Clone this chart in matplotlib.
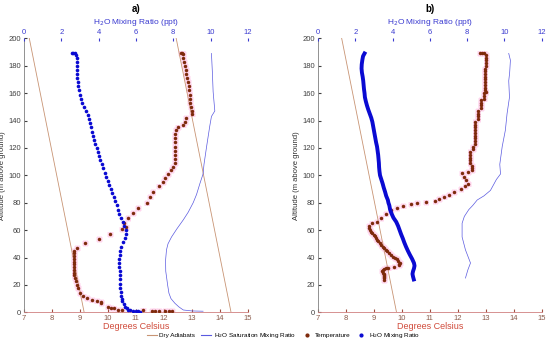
import numpy as np
import matplotlib
matplotlib.use('Agg')
import matplotlib.pyplot as plt
from matplotlib.lines import Line2D

plt.rcParams['font.family'] = ['Liberation Sans', 'DejaVu Sans']

# ---- panel a) ----
a_mr_z = [189, 189, 189, 188, 186, 183, 180, 177, 174, 171, 168, 165, 162, 159, 156, 153, 150,
          147, 144, 141, 138, 135, 132, 129, 126, 123, 120, 117, 114, 111, 108, 105, 102, 99,
          96, 93, 90, 87, 84, 81, 78, 75, 72, 69, 66, 63, 60, 57, 54, 51, 48, 45, 42, 39, 36,
          33, 30, 27, 24, 21, 18, 15, 12, 10, 8, 6, 4, 3, 2, 1.5, 1, 0.8, 0.6, 0.5]
a_mr = [2.55, 2.65, 2.75, 2.8, 2.82, 2.82, 2.83, 2.84, 2.85, 2.86, 2.88, 2.9, 2.93, 2.98, 3.05,
        3.12, 3.22, 3.32, 3.42, 3.5, 3.56, 3.6, 3.65, 3.7, 3.76, 3.83, 3.9, 3.97, 4.04, 4.1,
        4.17, 4.25, 4.32, 4.4, 4.48, 4.56, 4.65, 4.72, 4.8, 4.88, 4.96, 5.04, 5.12, 5.2, 5.3,
        5.38, 5.45, 5.46, 5.42, 5.32, 5.22, 5.15, 5.13, 5.12, 5.12, 5.12, 5.13, 5.14, 5.15,
        5.16, 5.17, 5.18, 5.2, 5.23, 5.28, 5.35, 5.42, 5.5, 5.58, 5.7, 5.85, 6.0, 6.1, 6.2]

a_t_z = [189, 189, 188.5, 186, 183, 180, 177, 174, 171, 168, 165, 162, 159, 156, 153, 150, 147,
         145, 142, 139, 137, 135, 133, 130, 127, 124, 121, 118, 115, 112, 109, 106, 104, 101,
         98, 95, 92, 88, 84.4, 80, 76, 72.4, 68.8, 65, 62, 60.5, 57, 53.7, 50.6, 47, 45, 43,
         41, 39, 37, 35, 33, 31, 29, 27, 25, 23, 20, 17.7, 14, 11.7, 10.4, 9.2, 8.5, 7.8, 6.5,
         4.1, 3, 2.8, 1.8, 1.8, 1.5, 1.2, 1.2, 1.2, 1.0, 1.0, 1.0]
a_t = [12.6, 12.66, 12.7, 12.7, 12.72, 12.75, 12.78, 12.8, 12.83, 12.86, 12.88, 12.9, 12.92,
       12.93, 12.94, 12.96, 12.99, 13.0, 12.8, 12.77, 12.68, 12.5, 12.43, 12.4, 12.39, 12.39,
       12.39, 12.39, 12.39, 12.39, 12.39, 12.33, 12.27, 12.15, 12.05, 11.98, 11.83, 11.6,
       11.5, 11.38, 11.08, 10.9, 10.7, 10.58, 10.64, 10.49, 10.07, 9.69, 9.18, 8.9, 8.8, 8.79,
       8.79, 8.79, 8.79, 8.79, 8.79, 8.8, 8.8, 8.8, 8.82, 8.86, 8.9, 8.94, 9.0, 9.1, 9.26,
       9.42, 9.6, 9.77, 9.77, 10.0, 10.1, 10.2, 10.36, 10.5, 11.26, 11.56, 11.7, 11.82, 12.05,
       12.18, 12.3]

a_sat_z = [189, 175, 161, 147, 143, 136, 121, 108, 101, 94, 86, 80, 73, 67.5, 61, 55, 50, 45.6,
           38, 30, 26, 20, 14, 10, 6.6, 4, 1.7, 1, 0.8]
a_sat = [10.05, 10.1, 10.14, 10.23, 10.05, 9.96, 9.79, 9.65, 9.6, 9.43, 9.25, 9.07, 8.8, 8.54,
         8.2, 7.91, 7.72, 7.64, 7.59, 7.6, 7.64, 7.7, 7.77, 7.88, 8.09, 8.3, 8.54, 9.0, 9.6]

# dry adiabats: temperature at ground and at 200 m
a_adiab_bottom = [9.15, 14.4]
a_adiab_top = [7.19, 12.44]

# ---- panel b) ----
b_mr_z = [189, 187, 184, 181, 178, 175, 172, 169, 166, 163, 160, 157, 154, 151, 148, 145, 142,
          139, 136, 133, 130, 127, 124, 121, 118, 115, 112, 109, 106, 103, 100, 97, 94, 91, 88,
          85, 82, 80, 78, 75, 72, 69, 66, 63, 60, 57, 54, 51, 48, 45, 42, 39, 36, 34, 32, 30,
          28, 26, 24]
b_mr = [2.5, 2.42, 2.38, 2.35, 2.34, 2.36, 2.4, 2.43, 2.45, 2.47, 2.5, 2.52, 2.57, 2.63, 2.7,
        2.78, 2.86, 2.92, 2.96, 3.0, 3.04, 3.08, 3.12, 3.17, 3.2, 3.23, 3.25, 3.27, 3.28, 3.3,
        3.33, 3.4, 3.47, 3.53, 3.6, 3.66, 3.75, 3.78, 3.83, 3.87, 3.95, 4.05, 4.2, 4.3, 4.38,
        4.46, 4.55, 4.63, 4.72, 4.82, 4.93, 5.05, 5.15, 5.18, 5.15, 5.1, 5.07, 5.1, 5.14]

b_t_z = [189, 189, 189, 188, 186, 184, 182, 180, 178, 176, 174, 172, 170, 168, 166, 164, 162,
         161, 160, 158, 156, 155, 153, 151, 149, 147, 145, 143, 141, 139, 137, 135, 133, 131,
         129, 127, 125, 123, 121, 119, 117, 115, 113, 111, 109, 107, 105, 103.9, 102.5, 101.5,
         99, 96.5, 94, 92, 90, 88, 86, 84.4, 82.7, 81, 80.2, 79.8, 78.8, 77.8, 76, 74.4, 72,
         68.8, 66.3, 65, 63, 61.5, 60, 58.8, 57.8, 56.6, 55.4, 54.2, 53, 51.8, 50.5, 49.2, 48,
         46.8, 45.6, 44.4, 43.2, 42, 40.7, 39.8, 38.8, 37.5, 36.3, 35.4, 34.6, 33.4, 32.7, 31.5,
         30.6, 29.8, 28.9, 28, 27.3, 26.6, 25.8, 24.9, 23.7, 32.3]
b_t = [12.8, 12.87, 12.95, 13.02, 13.02, 13.02, 13.02, 13.02, 12.96, 12.96, 12.96, 12.96, 12.96,
       12.96, 12.96, 12.96, 12.96, 12.99, 12.93, 12.93, 12.93, 12.83, 12.83, 12.83, 12.83,
       12.71, 12.71, 12.71, 12.71, 12.63, 12.63, 12.63, 12.63, 12.63, 12.63, 12.63, 12.63,
       12.63, 12.55, 12.55, 12.45, 12.45, 12.45, 12.45, 12.45, 12.5, 12.52, 12.51, 12.36,
       12.15, 12.21, 12.31, 12.36, 12.27, 12.1, 11.86, 11.68, 11.5, 11.32, 11.2, 10.85, 10.55,
       10.31, 10.05, 9.81, 9.62, 9.42, 9.24, 9.1, 8.94, 8.82, 8.84, 8.86, 8.9, 8.94, 9.0,
       9.04, 9.08, 9.12, 9.16, 9.21, 9.27, 9.33, 9.37, 9.42, 9.48, 9.54, 9.62, 9.69, 9.76,
       9.83, 9.88, 9.93, 9.91, 9.89, 9.71, 9.5, 9.36, 9.33, 9.3, 9.33, 9.36, 9.38, 9.38, 9.37,
       9.36, 9.36, 9.45]

b_sat_z = [189, 184, 175, 169, 157, 145, 133, 121, 108, 101, 97, 89, 85, 82, 78, 75, 70, 65, 55,
           45.6, 36, 31, 25]
b_sat = [10.23, 10.32, 10.28, 10.23, 10.27, 10.14, 10.05, 9.88, 9.75, 9.79, 9.57, 9.25, 8.9,
         8.54, 8.3, 8.09, 7.85, 7.73, 7.73, 7.91, 8.18, 8.04, 7.91]

b_adiab_bottom = [9.81]
b_adiab_top = [7.85]

t_ticks = list(range(7, 16))
mr_ticks = list(range(0, 13, 2))
z_ticks = list(range(0, 201, 20))

c_temp = '#7e2a0c'
c_mr = '#0a0ad2'
c_sat = '#5a5ae0'
c_adiab = '#c89474'
c_pink = '#ffd6ee'
c_red = '#d04a3a'
c_top = '#3a3ad0'

fig = plt.figure(figsize=(5.5, 3.42), dpi=100)


def panel(rect, title, t_z, t, mr_z, mr, sat_z, sat, ad_bot, ad_top, dense):
    ax = fig.add_axes(rect)
    ax.set_xlim(7, 15)
    ax.set_ylim(0, 200)
    # dry adiabats
    for tb, tt in zip(ad_bot, ad_top):
        ax.plot([tb, tt], [0, 200], color=c_adiab, lw=0.6, zorder=2)
    # temperature with pink error bars
    ax.errorbar(t, t_z, xerr=0.1, yerr=2, fmt='none', ecolor=c_pink, elinewidth=3.5,
                capsize=0, zorder=1)
    ax.plot(t, t_z, 'o', color=c_temp, ms=2.5, mec='none', zorder=4)
    ax.set_xticks(t_ticks)
    ax.set_yticks(z_ticks)
    ax.tick_params(axis='x', colors='#a05040', labelsize=5.5, direction='in', length=2,
                   pad=2)
    ax.tick_params(axis='y', colors='#404040', labelsize=5.5, direction='in', length=2,
                   pad=2)
    for lab in ax.get_xticklabels():
        lab.set_color('#8a5a4a')
    ax.spines['top'].set_visible(False)
    ax.spines['right'].set_visible(False)
    ax.spines['bottom'].set_color('#d08080')
    ax.spines['left'].set_color('#808080')
    ax.spines['bottom'].set_linewidth(0.6)
    ax.spines['left'].set_linewidth(0.6)
    ax.set_xlabel('Degrees Celsius', color=c_red, fontsize=6.5, labelpad=0)
    ax.set_ylabel('Altitude (m above ground)', color='#303030', fontsize=5.5, labelpad=2)

    ax2 = ax.twiny()
    ax2.set_xlim(0, 12)
    ax2.set_ylim(0, 200)
    ax2.plot(sat, sat_z, '-', color=c_sat, lw=0.5, zorder=3)
    if dense:
        ax2.plot(mr, mr_z, '-', color=c_mr, lw=2.8, zorder=4)
    else:
        ax2.plot(mr, mr_z, 'o', color=c_mr, ms=2.6, mec='none', zorder=4)
    ax2.set_xticks(mr_ticks)
    ax2.tick_params(axis='x', colors=c_top, labelsize=5.5, direction='in', length=2, pad=2)
    for s in ax2.spines.values():
        s.set_visible(False)
    ax2.set_xlabel('H$_2$O Mixing Ratio (ppt)', color=c_top, fontsize=6, labelpad=3)
    x0, w = rect[0], rect[2]
    fig.text(x0 + w / 2, 1 - 9 / 342, title, fontsize=7, fontweight='bold',
             ha='center', va='center')
    return ax


panel([0.0436, 0.0868, 0.407, 0.801], 'a)', a_t_z, a_t, a_mr_z, a_mr, a_sat_z, a_sat,
      a_adiab_bottom, a_adiab_top, False)
panel([0.578, 0.0868, 0.407, 0.801], 'b)', b_t_z, b_t, b_mr_z, b_mr, b_sat_z, b_sat,
      b_adiab_bottom, b_adiab_top, True)

handles = [Line2D([], [], color=c_adiab, lw=0.8),
           Line2D([], [], color=c_sat, lw=0.8),
           Line2D([], [], color=c_temp, marker='o', ms=2, ls='none'),
           Line2D([], [], color=c_mr, marker='o', ms=2, ls='none')]
labels = ['Dry Adiabats', 'H$_2$O Saturation Mixing Ratio', 'Temperature',
          'H$_2$O Mixing Ratio']
fig.legend(handles, labels, loc='center', bbox_to_anchor=(0.515, 0.018), ncol=4,
           frameon=False, fontsize=4.6, handlelength=1.6, columnspacing=0.9,
           handletextpad=0.4, borderpad=0, borderaxespad=0)

fig.savefig('out.png', dpi=100)
